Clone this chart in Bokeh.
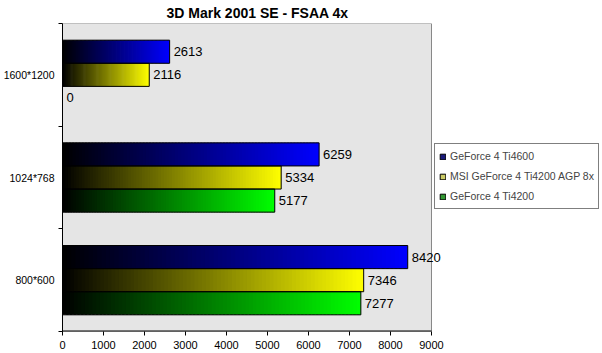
from bokeh.plotting import figure
from bokeh.models import (Range1d, FixedTicker, Legend, LegendItem, ColumnDataSource, Title)
from bokeh.embed import file_html
from bokeh.resources import INLINE
from bokeh.core.properties import value

# ---- data ----
categories = ["800*600", "1024*768", "1600*1200"]
series_names = ["GeForce 4 Ti4600", "MSI GeForce 4 Ti4200 AGP 8x", "GeForce 4 Ti4200"]
ti4600 = [8420, 6259, 2613]
msi_ti4200 = [7346, 5334, 2116]
ti4200 = [7277, 5177, 0]
x_ticks = [0, 1000, 2000, 3000, 4000, 5000, 6000, 7000, 8000, 9000]
x_max = 9000

series_values = [ti4600, msi_ti4200, ti4200]
end_colors = [(0, 0, 255), (255, 255, 0), (0, 255, 0)]
legend_colors = ["#1a1a7a", "#cccc66", "#339933"]
offsets = [0.225, 0.0, -0.225]
bar_h = 0.225

# plot area is 369 px wide for 0..9000; frame extended to the right to hold labels + legend
plot_px, frame_px = 369, 540
p = figure(output_backend="svg", toolbar_location=None,
           x_range=Range1d(0, x_max * frame_px / plot_px), y_range=Range1d(0, 3),
           frame_width=frame_px, frame_height=308,
           min_border_left=62, min_border_top=0, min_border_bottom=0, min_border_right=0)
p.background_fill_color = "white"
p.border_fill_color = "white"
p.outline_line_color = None
p.grid.visible = False

p.title = Title(text="3D Mark 2001 SE - FSAA 4x", align="left", offset=104,
                text_font="Liberation Sans", text_font_size="14px", text_font_style="bold",
                text_color="black", standoff=5)

# plot-area background
p.quad(left=[0], right=[x_max], bottom=[0], top=[3], fill_color="#e5e5e5",
       line_color="#888888", line_width=1)

# gradient bars: many overlapping thin segments from black to end colour
N = 80
for s, vals in enumerate(series_values):
    rc, gc, bc = end_colors[s]
    lefts, rights, ys, cols = [], [], [], []
    for c, v in enumerate(vals):
        if v <= 0:
            continue
        for i in range(N):
            t = (i + 0.5) / N
            lefts.append(v * i / N)
            rights.append(min(v, v * (i + 1.6) / N))
            ys.append(c + 0.5 + offsets[s])
            cols.append("#%02x%02x%02x" % (int(rc * t), int(gc * t), int(bc * t)))
    src = ColumnDataSource(dict(left=lefts, right=rights, y=ys, c=cols))
    p.hbar(y="y", left="left", right="right", height=bar_h, fill_color="c",
           line_alpha=0, source=src)

# outlines and value labels
legend_items = []
for s, vals in enumerate(series_values):
    ys = [c + 0.5 + offsets[s] for c in range(len(vals))]
    src = ColumnDataSource(dict(y=ys, right=vals, lab=[str(v) for v in vals]))
    nz = [v > 0 for v in vals]
    osrc = ColumnDataSource(dict(y=[y for y, k in zip(ys, nz) if k],
                                 right=[v for v, k in zip(vals, nz) if k]))
    p.hbar(y="y", left=0, right="right", height=bar_h, fill_alpha=0,
           line_color="black", line_width=1, source=osrc)
    p.text(x="right", y="y", text="lab", source=src, x_offset=4,
           text_font=value("Liberation Sans"), text_font_size="13px",
           text_baseline="middle", text_align="left", text_color="black")
    # legend swatch renderer (placed outside the visible range)
    dummy = p.hbar(y=[-10], left=[0], right=[1], height=bar_h, fill_color=legend_colors[s],
                   line_color="black", line_width=1)
    legend_items.append(LegendItem(label=series_names[s], renderers=[dummy]))

# bottom axis line only under the plot area
p.segment(x0=[0], y0=[0], x1=[x_max], y1=[0], line_color="black", line_width=2)

legend = Legend(items=legend_items, location=(372, 122), border_line_color="black",
                border_line_width=1, background_fill_color="white", background_fill_alpha=1,
                label_text_font="Liberation Sans", label_text_font_size="10.5px",
                glyph_width=7, glyph_height=7, label_height=16, label_standoff=4,
                spacing=4, padding=4, margin=0)
p.add_layout(legend)

# axes
xa = p.xaxis[0]
xa.ticker = FixedTicker(ticks=x_ticks)
xa.axis_line_color = None
xa.major_tick_line_color = "black"
xa.major_tick_out = 4
xa.major_tick_in = 0
xa.minor_tick_out = 0
xa.major_label_standoff = 5
xa.major_label_text_font = "Liberation Sans"
xa.major_label_text_font_size = "11px"
xa.major_label_text_color = "black"

ya = p.yaxis[0]
ya.ticker = FixedTicker(ticks=[0.5, 1.5, 2.5], minor_ticks=[0, 1, 2, 3])
ya.major_label_overrides = {0.5: categories[0], 1.5: categories[1], 2.5: categories[2]}
ya.axis_line_color = "black"
ya.major_tick_out = 0
ya.major_tick_in = 0
ya.minor_tick_out = 4
ya.minor_tick_in = 0
ya.minor_tick_line_color = "black"
ya.major_label_standoff = 4
ya.major_label_text_font = "Liberation Sans"
ya.major_label_text_font_size = "10.5px"
ya.major_label_text_color = "black"

open("out.html", "w").write(file_html(p, INLINE))
